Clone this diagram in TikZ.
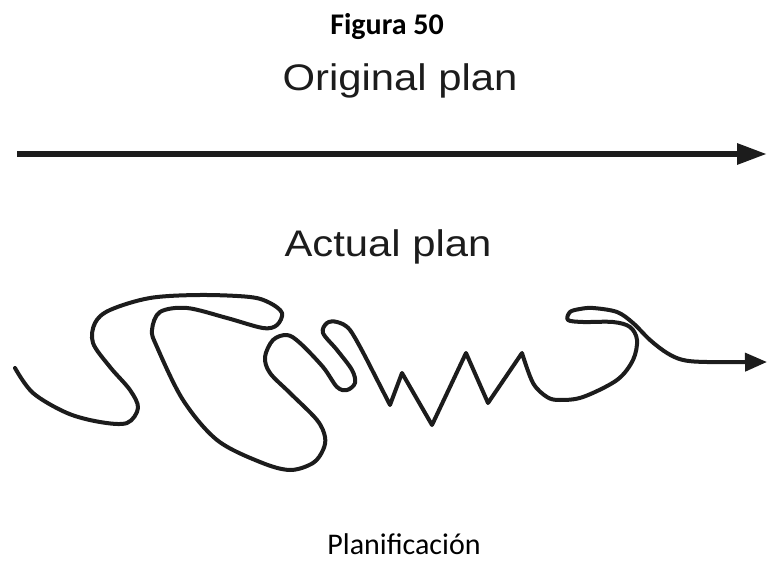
\documentclass[tikz,border=0pt]{standalone}
\usepackage{fontspec}
\setmainfont{Carlito}
\newfontfamily\planfont[FakeStretch=1.13]{Liberation Sans}
\usetikzlibrary{arrows.meta}

\definecolor{ink}{HTML}{1C1C1C}

\begin{document}
\begin{tikzpicture}[x=1bp, y=-1bp, line join=round,
  plan/.style={font=\planfont\fontsize{37bp}{44bp}\selectfont, text=ink, anchor=base, inner sep=0pt},
  caption/.style={font=\fontsize{30bp}{36bp}\selectfont, anchor=base, inner sep=0pt},
  straight/.style={ink, line width=6bp, -{Triangle[length=30bp, width=20bp]}},
  wander/.style={ink, line width=4bp, line cap=round, -{Triangle[length=22bp, width=18bp]}}]
  \useasboundingbox (0,0) rectangle (767,561);

  % titles
  \node[caption, font=\bfseries\fontsize{30bp}{36bp}\selectfont] (fig) at (387,35) {Figura 50};
  \node[plan] (orig) at (400,91) {Original plan};
  \node[plan] (actual) at (388,257) {Actual plan};
  \node[caption] (planif) at (404,554) {Planificación};

  % the straight plan
  \coordinate (os) at (17,154);
  \coordinate (oe) at (767,154);
  \draw[straight] (os) -- (oe);

  % the real plan: loops, zigzag, loop, then out to the right
  \coordinate (as) at (15,368);
  \coordinate (ae) at (767,362);
  \draw[wander] plot[smooth, tension=0.55] coordinates {
      (as) (33,393) (67,413) (100,422) (127,423) (138,408) (130,390)
      (110,367) (93,343) (95,323) (110,310) (150,298) (200,295)
      (250,297) (270,303) (282,313) (277,325) (263,328) (227,318)
      (187,308) (160,312) (152,330) (157,347) (183,400) (217,440)
      (260,462) (290,470) (313,463) (323,450) (325,437) (317,420)
      (290,393) (270,373) (265,357) (273,340) (287,335) (300,343)
      (323,367) (337,387) (347,390) (355,383) (352,370) (337,350)
      (323,333) (327,323) (337,322) (350,330) (367,360)}
    -- (390,405) -- (402,373) -- (432,425) -- (466,353) -- (488,403)
    -- plot[smooth, tension=0.55] coordinates {
      (522,353) (533,383) (547,397) (560,400) (583,397) (617,380)
      (633,360) (637,340) (630,327) (613,322) (583,322) (568,320)
      (570,312) (580,309) (593,308) (617,312) (633,323) (650,340)
      (667,353) (683,360) (707,362) (ae)};
\end{tikzpicture}
\end{document}
